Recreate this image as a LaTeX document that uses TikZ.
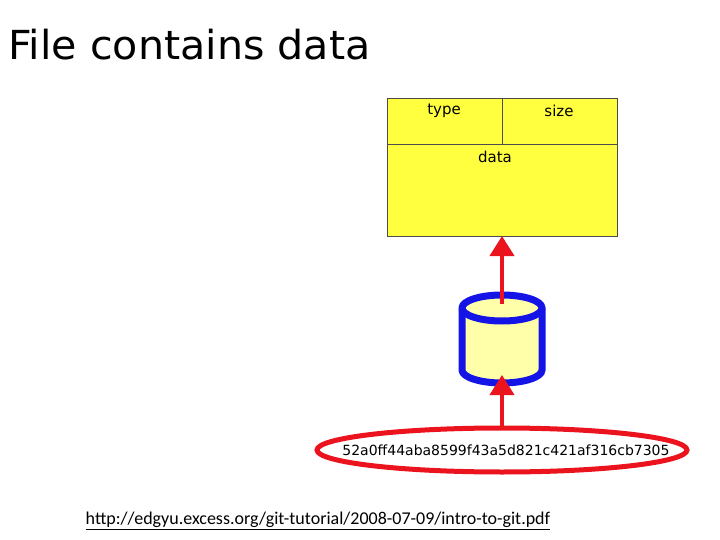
\documentclass[tikz,border=0pt]{standalone}
\usepackage{fontspec}
\setmainfont{DejaVu Sans}
\newfontfamily\urlfont{Carlito}
\usetikzlibrary{arrows.meta,positioning,shapes.geometric}
\definecolor{boxyellow}{RGB}{255,255,64}
\definecolor{canyellow}{RGB}{255,255,170}
\definecolor{hashred}{RGB}{235,20,30}
\definecolor{canblue}{RGB}{20,20,230}
\tikzset{
  field/.style={font=\fontsize{15}{17}\selectfont},
  bigarrow/.style={hashred,line width=4pt,-{Triangle[length=20pt,width=24pt]}}
}
\begin{document}
\begin{tikzpicture}[x=1pt,y=-1pt]
  \useasboundingbox (0,0) rectangle (720,540);
  \node[anchor=west,font=\fontsize{40}{44}\selectfont,xscale=1.03,inner sep=0pt] (title) at (8,45) {File contains data};
  % object box
  \draw[fill=boxyellow,draw=black!70] (387,98) rectangle (617,236);
  \draw[draw=black!70] (387,144) -- (617,144) (502,98) -- (502,144);
  \node[field] (type) at (444,111) {type};
  \node[field] (size) at (559,111) {size};
  \node[field] (data) at (495,157) {data};
  \coordinate (boxbot) at (502,236);
  % cylinder
  \draw[canblue,line width=7pt,fill=canyellow]
    (462,308) -- (462,370) arc[start angle=180,end angle=0,x radius=40,y radius=13]
    -- (542,308) arc[start angle=0,end angle=-180,x radius=40,y radius=13] -- cycle;
  \draw[canblue,line width=7pt] (462,308) arc[start angle=180,end angle=0,x radius=40,y radius=13];
  \coordinate (cantop) at (502,304);
  \coordinate (canbot) at (502,375);
  % hash
  \draw[hashred,line width=5pt] (502,450) ellipse[x radius=185,y radius=22];
  \node[font=\fontsize{14}{16}\selectfont,inner sep=0pt] (hash) at (506,450) {52a0ff44aba8599f43a5d821c421af316cb7305};
  \coordinate (hashtop) at (502,428);
  \draw[bigarrow] (cantop) -- (boxbot);
  \draw[bigarrow] (hashtop) -- (canbot);
  \node[font=\urlfont\fontsize{18}{20}\selectfont] (url) at (318,521)
    {\underline{http://edgyu.excess.org/git-tutorial/2008-07-09/intro-to-git.pdf}};
\end{tikzpicture}
\end{document}
